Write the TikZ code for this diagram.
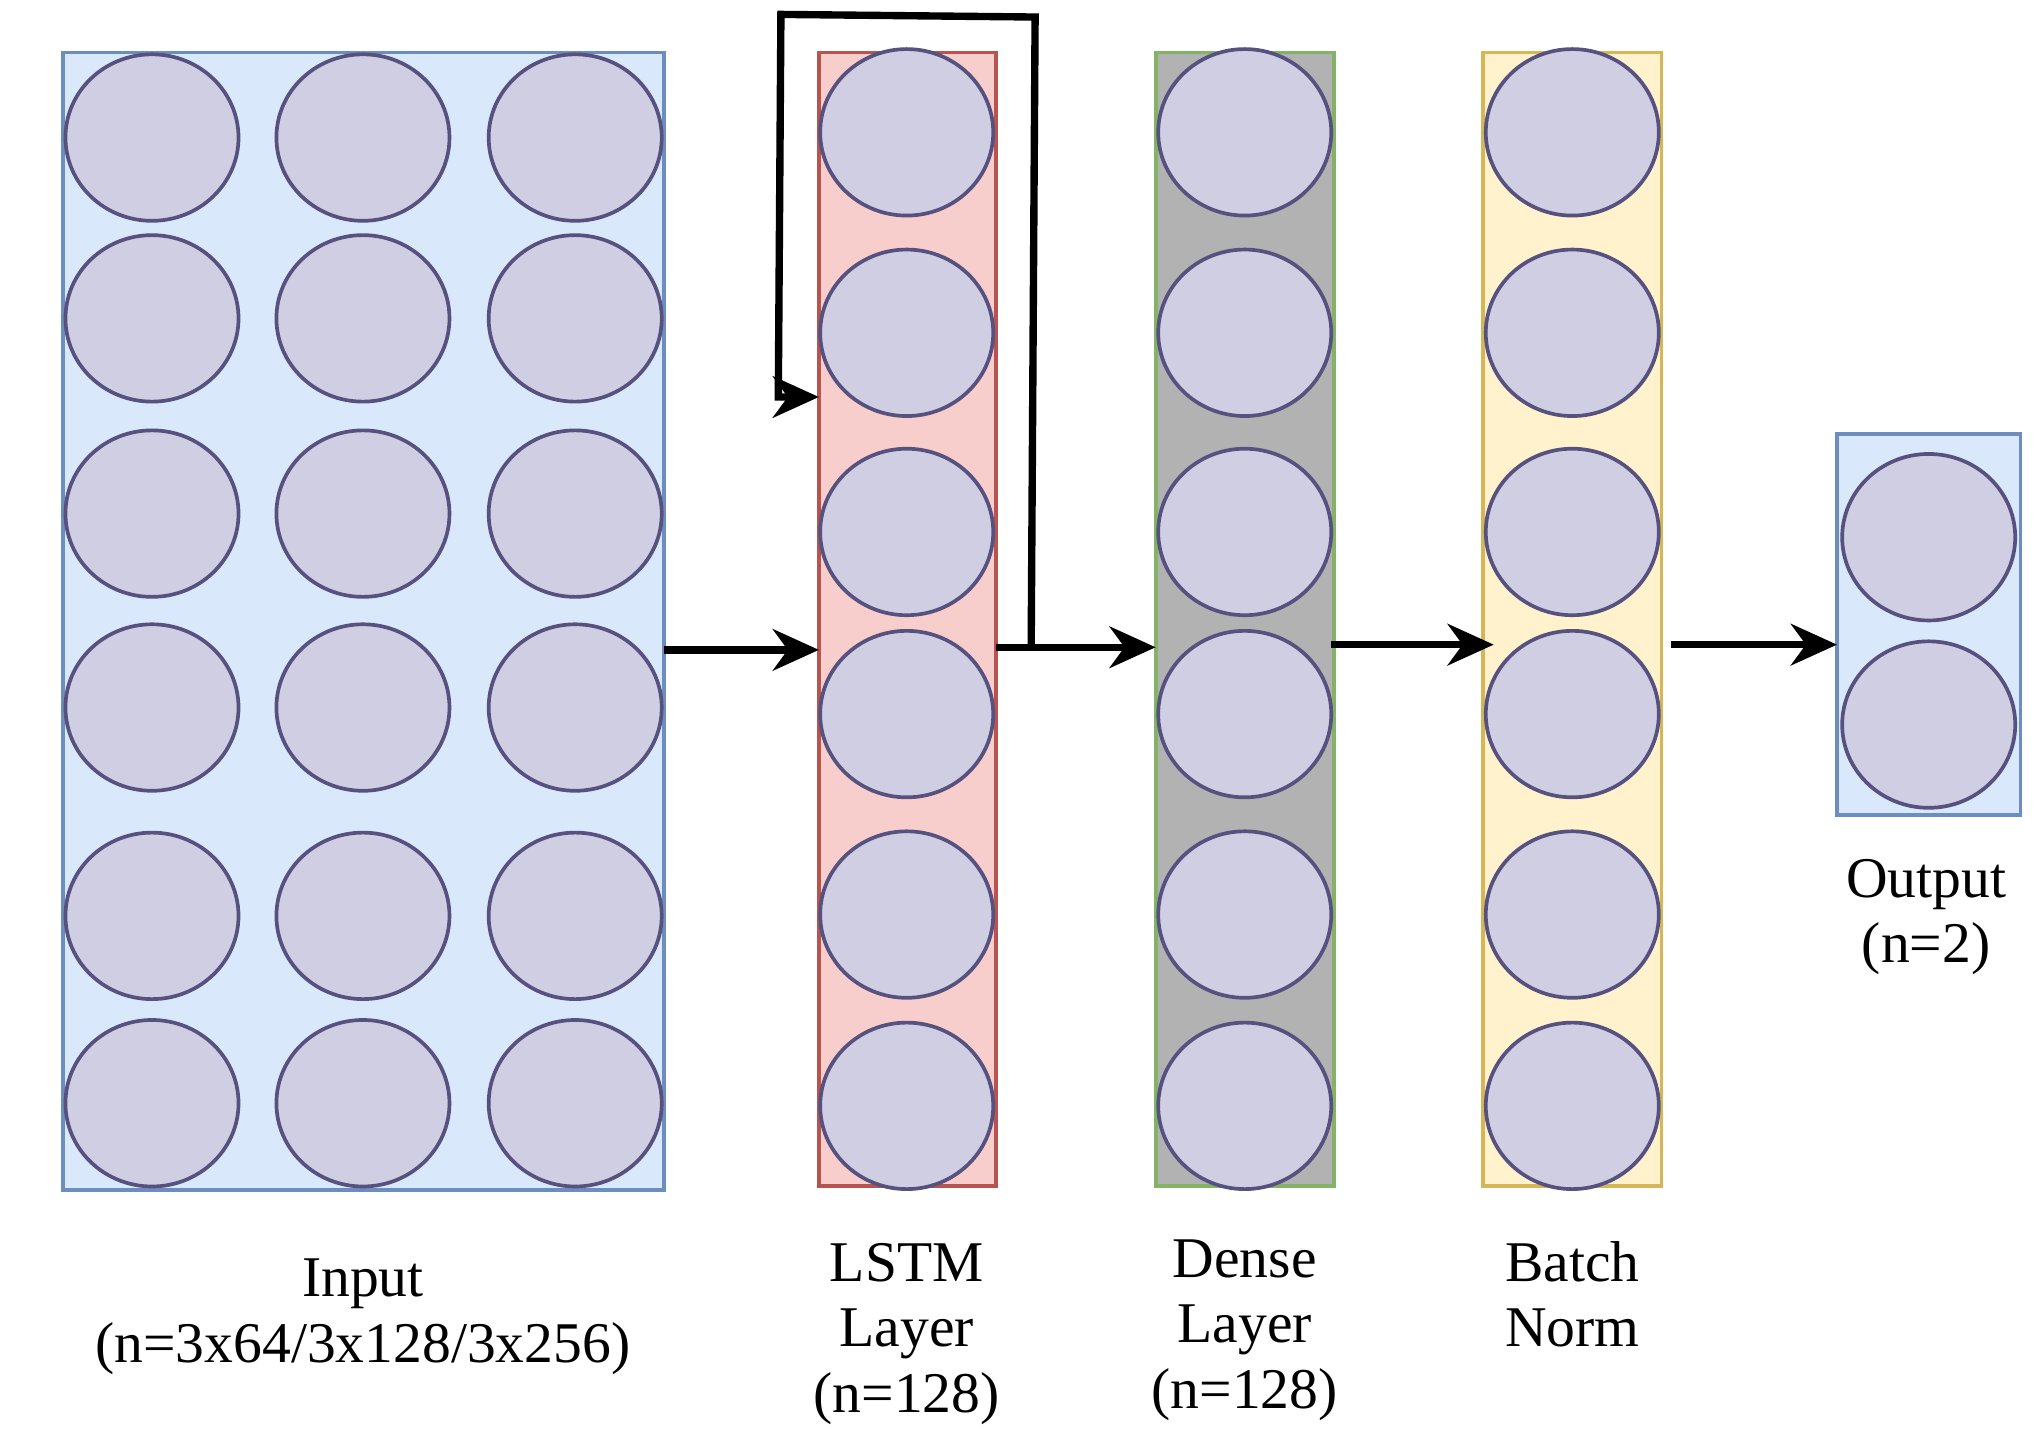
\documentclass[tikz,border=0pt]{standalone}
\usepackage{fontspec}
\setmainfont{Liberation Serif}
\usetikzlibrary{arrows.meta}
\usetikzlibrary{positioning}
\usetikzlibrary{shapes.geometric}
\definecolor{bluefill}{HTML}{DAE8FC}
\definecolor{bluedraw}{HTML}{6C8EBF}
\definecolor{redfill}{HTML}{F8CECC}
\definecolor{reddraw}{HTML}{B85450}
\definecolor{greydraw}{HTML}{82B366}
\definecolor{yellowfill}{HTML}{FFF2CC}
\definecolor{yellowdraw}{HTML}{D6B656}
\definecolor{unitfill}{HTML}{D0CEE2}
\definecolor{unitdraw}{HTML}{56517E}
\begin{document}
\begin{tikzpicture}
 [x=0.01cm,y=-0.01cm,
  layer/.style={rectangle,thick,inner sep=0pt},
  unit/.style={ellipse,draw=unitdraw,fill=unitfill,thick,minimum width=1.32cm,minimum height=1.27cm,inner sep=0pt},
  on/.style={-{Stealth[length=10pt,width=9pt]},line width=1.6pt},
  label/.style={align=center,font=\fontsize{12.5}{14.2}\selectfont}]

\useasboundingbox (0,0) rectangle (1560,1094);

% Layers %
\fill[bluefill,draw=bluedraw,thick] (48,40) rectangle (507,908);
\coordinate (inR) at (507,496);
\fill[redfill,draw=reddraw,thick] (625,40) rectangle (760,905);
\fill[black!30,draw=greydraw,thick] (882,40) rectangle (1018,905);
\fill[yellowfill,draw=yellowdraw,thick] (1132,40) rectangle (1268,905);
\fill[bluefill,draw=bluedraw,thick] (1402,331) rectangle (1542,622);

% Units %
\foreach \y [count=\r] in {105,243,392,540,699,842}
  \foreach \x [count=\c] in {116,277,439}
    \node[unit] (in\r\c) at (\x,\y) {};
\foreach \y [count=\r] in {101,254,406,545,698,844} {
  \node[unit] (lstm\r) at (692,\y) {};
  \node[unit] (dense\r) at (950,\y) {};
  \node[unit] (bn\r) at (1200,\y) {};}
\node[unit] (out1) at (1472,410) {};
\node[unit] (out2) at (1472,553) {};

% Labels %
\node[label] (inlab) at (277,1005) {Input\\(n=3x64/3x128/3x256)};
\node[label] (lstmlab) at (692,1018) {LSTM\\Layer\\(n=128)};
\node[label] (denselab) at (950,1015) {Dense\\Layer\\(n=128)};
\node[label] (bnlab) at (1200,988) {Batch\\Norm};
\node[label] (outlab) at (1470,700) {Output\\(n=2)};

% Arrows %
\coordinate (lstmL) at (625,496);
\coordinate (lstmR) at (760,494);
\coordinate (denseL) at (882,494);
\coordinate (denseR) at (1016,492);
\coordinate (bnL) at (1140,492);
\coordinate (bnR) at (1275,492);
\coordinate (outL) at (1402,492);
\coordinate (loop0) at (787,494);
\coordinate (loopE) at (625,303);
\draw[on] (inR) -- (lstmL);
\draw[on] (lstmR) -- (denseL);
\draw[on] (denseR) -- (bnL);
\draw[on] (bnR) -- (outL);
\draw[on] (loop0) -- (790,13) -- (596,11) -- (594,303) -- (loopE);
\end{tikzpicture}
\end{document}
